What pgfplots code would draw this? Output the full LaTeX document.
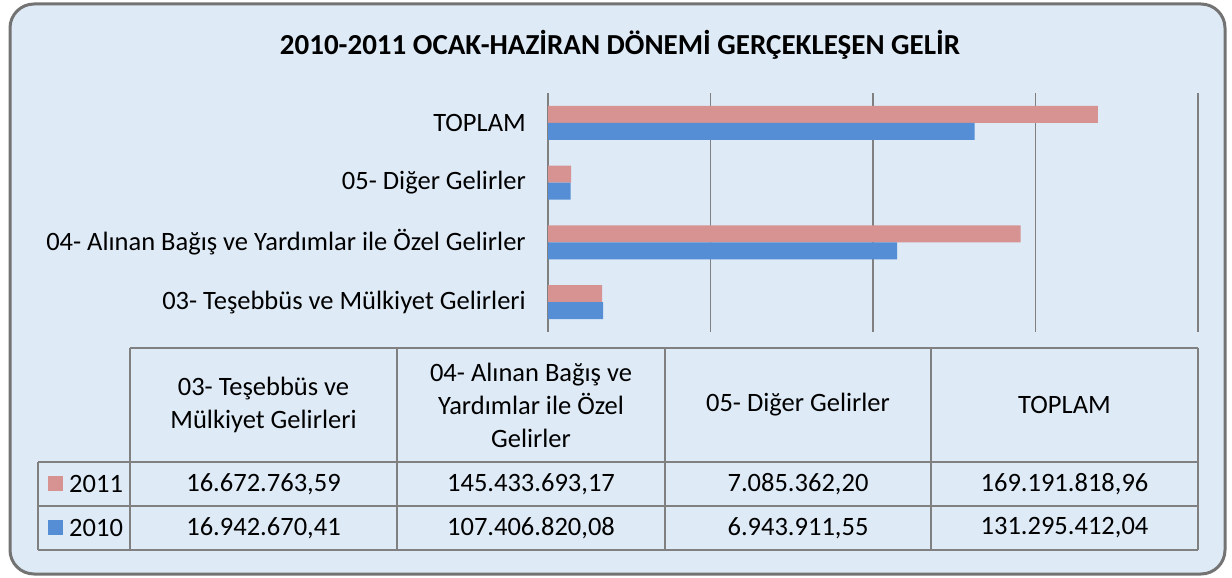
\documentclass[border=0pt]{standalone}
\usepackage{pgfplots}
\usepackage{pgfplotstable}
\pgfplotsset{compat=1.18}
\usepackage{fontspec}
\setmainfont{Carlito}
\definecolor{bar11}{RGB}{214,147,146}
\definecolor{bar10}{RGB}{85,142,213}
\definecolor{bgblue}{RGB}{222,234,246}
\definecolor{rulegray}{RGB}{128,128,128}

% category 0..3 from bottom: 03, 04, 05, TOPLAM
\pgfplotstableread{
cat y2011 y2010
0 16672763.59 16942670.41
1 145433693.17 107406820.08
2 7085362.20 6943911.55
3 169191818.96 131295412.04
}\gelir

\newcommand\fs{\fontsize{26.5}{33}\selectfont}

\begin{document}
\begin{tikzpicture}[x=1pt,y=1pt]
\useasboundingbox (0,0) rectangle (1232,-578);
\fill[bgblue, rounded corners=24pt] (10,-4) rectangle (1225,-574);
\draw[rulegray!90!black, line width=3pt, rounded corners=24pt] (10,-4) rectangle (1225,-574);

\node[font=\fontsize{29}{34}\selectfont\bfseries] at (620,-45)
  {2010-2011 OCAK-HAZİRAN DÖNEMİ GERÇEKLEŞEN GELİR};

\begin{axis}[
  at={(548pt,-332pt)}, anchor=south west,
  scale only axis, width=650pt, height=239pt,
  xbar, bar width=17pt,
  xmin=0, xmax=200000000,
  ymin=-0.5, ymax=3.5,
  xtick={0,50000000,100000000,150000000,200000000},
  xticklabels={}, scaled x ticks=false,
  xmajorgrids, grid style={rulegray, line width=1.2pt},
  axis line style={draw=none},
  major tick length=0pt,
  ytick={0,1,2,3},
  yticklabels={03- Teşebbüs ve Mülkiyet Gelirleri,
    04- Alınan Bağış ve Yardımlar ile Özel Gelirler,
    05- Diğer Gelirler, TOPLAM},
  yticklabel style={font=\fs, inner sep=0pt, xshift=-22pt},
]
\addplot[fill=bar11, draw=none, bar shift=8.5pt] table[x=y2011, y=cat] {\gelir};
\addplot[fill=bar10, draw=none, bar shift=-8.5pt] table[x=y2010, y=cat] {\gelir};
\end{axis}

% data table
\begin{scope}[rulegray, line width=1.5pt]
  \draw (130,-348) -- (1198,-348);
  \foreach \yy in {-462,-506,-550} \draw (38,\yy) -- (1198,\yy);
  \draw (38,-462) -- (38,-550);
  \foreach \xx in {130,397,665,931,1198} \draw (\xx,-348) -- (\xx,-550);
\end{scope}

\begin{scope}[every node/.style={font=\fs, align=center, inner sep=0pt}]
  \node at (263.5,-405) {03- Teşebbüs ve\\Mülkiyet Gelirleri};
  \node at (531,-405) {04- Alınan Bağış ve\\Yardımlar ile Özel\\Gelirler};
  \node at (798,-405) {05- Diğer Gelirler};
  \node at (1064.5,-405) {TOPLAM};

  \node at (263.5,-484) {16.672.763,59};
  \node at (531,-484) {145.433.693,17};
  \node at (798,-484) {7.085.362,20};
  \node at (1064.5,-484) {169.191.818,96};

  \node at (263.5,-528) {16.942.670,41};
  \node at (531,-528) {107.406.820,08};
  \node at (798,-528) {6.943.911,55};
  \node at (1064.5,-528) {131.295.412,04};

  \fill[bar11] (48,-476) rectangle (63,-491);
  \node[anchor=west] at (69,-484) {2011};
  \fill[bar10] (48,-520) rectangle (63,-535);
  \node[anchor=west] at (69,-528) {2010};
\end{scope}
\end{tikzpicture}
\end{document}
